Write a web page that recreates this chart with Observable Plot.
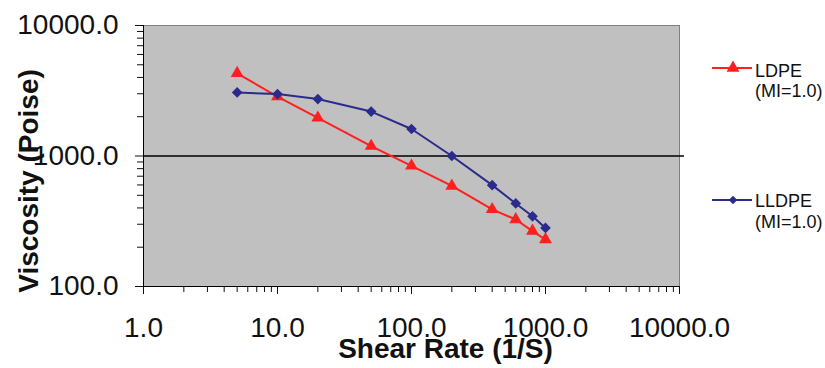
<!DOCTYPE html>
<html><head><meta charset="utf-8">
<script src="https://cdn.jsdelivr.net/npm/d3@7"></script>
<script src="https://cdn.jsdelivr.net/npm/@observablehq/plot@0.6"></script>
<style>
body{margin:0;background:#fff;font-family:"Liberation Sans",Arial,sans-serif;}
#chart{position:relative;width:825px;height:368px;}
</style></head><body><div id="chart"></div>
<script>
const shearRates = [5, 10, 20, 50, 100, 200, 400, 600, 800, 1000];
const ldpeViscosity = [4300, 2850, 1960, 1190, 840, 590, 390, 326, 266, 229];
const lldpeViscosity = [3070, 2980, 2730, 2190, 1610, 1000, 598, 433, 345, 281];
const seriesNames = ["LDPE", "LLDPE"];
const seriesSub = ["(MI=1.0)", "(MI=1.0)"];
const seriesColors = ["#ff1f1f", "#2b2b8c"];
const seriesSymbols = ["triangle", "diamond2"];
const xMajorTicks = [1, 10, 100, 1000, 10000];
const yMajorTicks = [100, 1000, 10000];
const xTitle = "Shear Rate (1/S)";
const yTitle = "Viscosity (Poise)";

const minorOf = majors => majors.slice(0, -1).flatMap(m => d3.range(2, 10).map(k => m * k));
const xMinorTicks = minorOf(xMajorTicks);
const yMinorTicks = minorOf(yMajorTicks);

const data = shearRates.flatMap((x, i) => [
  {series: seriesNames[0], x, y: ldpeViscosity[i]},
  {series: seriesNames[1], x, y: lldpeViscosity[i]}
]);
const colorScale = d3.scaleOrdinal(seriesNames, seriesColors);
const symbolScale = d3.scaleOrdinal(seriesNames, seriesSymbols);
const fmt = d => d.toFixed(1);
const FONT = "'Liberation Sans', Arial, sans-serif";

const plot = Plot.plot({
  width: 825, height: 368,
  marginLeft: 143, marginRight: 146, marginTop: 25, marginBottom: 82,
  style: {fontFamily: FONT, background: "transparent", color: "#111", overflow: "visible"},
  x: {type: "log", domain: [1, 10000], label: null},
  y: {type: "log", domain: [100, 10000], label: null},
  marks: [
    Plot.frame({fill: "#c0c0c0", stroke: "#808080"}),
    Plot.ruleY([1000], {stroke: "#000", strokeWidth: 1.3, insetRight: -5}),
    Plot.axisY(yMinorTicks, {tickSize: 6, tickFormat: () => "", label: null}),
    Plot.axisY(yMajorTicks, {tickSize: 8, tickPadding: 17, fontSize: 28, tickFormat: fmt, label: null}),
    Plot.axisX(xMinorTicks, {tickSize: 6, tickFormat: () => "", label: null}),
    Plot.axisX(xMajorTicks, {tickSize: 8, tickPadding: 23, fontSize: 28, tickFormat: fmt, label: null}),
    Plot.ruleX([1], {stroke: "#000"}),
    Plot.ruleY([100], {stroke: "#000"}),
    Plot.line(data, {x: "x", y: "y", z: "series", stroke: d => colorScale(d.series), strokeWidth: 2}),
    Plot.dot(data, {x: "x", y: "y", symbol: d => symbolScale(d.series), fill: d => colorScale(d.series), r: 4.8}),
    Plot.text([xTitle], {frameAnchor: "bottom", dx: 34, dy: 71, lineAnchor: "bottom", fontSize: 28, fontWeight: "bold", fill: "#111"})
  ]
});
document.getElementById("chart").appendChild(plot);

const svg = d3.select(plot);
// y-axis title (rotated)
svg.append("text")
  .attr("transform", "translate(38,181) rotate(-90)")
  .attr("text-anchor", "middle")
  .attr("font-family", FONT).attr("font-size", 28).attr("font-weight", "bold").attr("fill", "#111")
  .text(yTitle);

// legend to the right of the plot
const legendLineY = [68, 200];
const legendTextY = [[77, 97], [207, 228]];
const lg = svg.append("g").attr("font-family", FONT).attr("fill", "#111").attr("text-anchor", "start");
seriesNames.forEach((name, i) => {
  const g = lg.append("g");
  g.append("line").attr("x1", 712).attr("x2", 752).attr("y1", legendLineY[i]).attr("y2", legendLineY[i])
    .attr("stroke", seriesColors[i]).attr("stroke-width", 2);
  const sym = seriesSymbols[i] === "triangle" ? d3.symbolTriangle : d3.symbolDiamond2;
  const size = i === 0 ? Math.PI * 4.8 * 4.8 : Math.PI * 3.8 * 3.8;
  g.append("path").attr("d", d3.symbol(sym, size)()).attr("transform", `translate(733,${legendLineY[i]})`).attr("fill", seriesColors[i]);
  const t = g.append("text").attr("font-size", 18);
  t.append("tspan").attr("x", 755).attr("y", legendTextY[i][0]).text(name);
  t.append("tspan").attr("x", 755).attr("y", legendTextY[i][1]).text(seriesSub[i]);
});
</script></body></html>
